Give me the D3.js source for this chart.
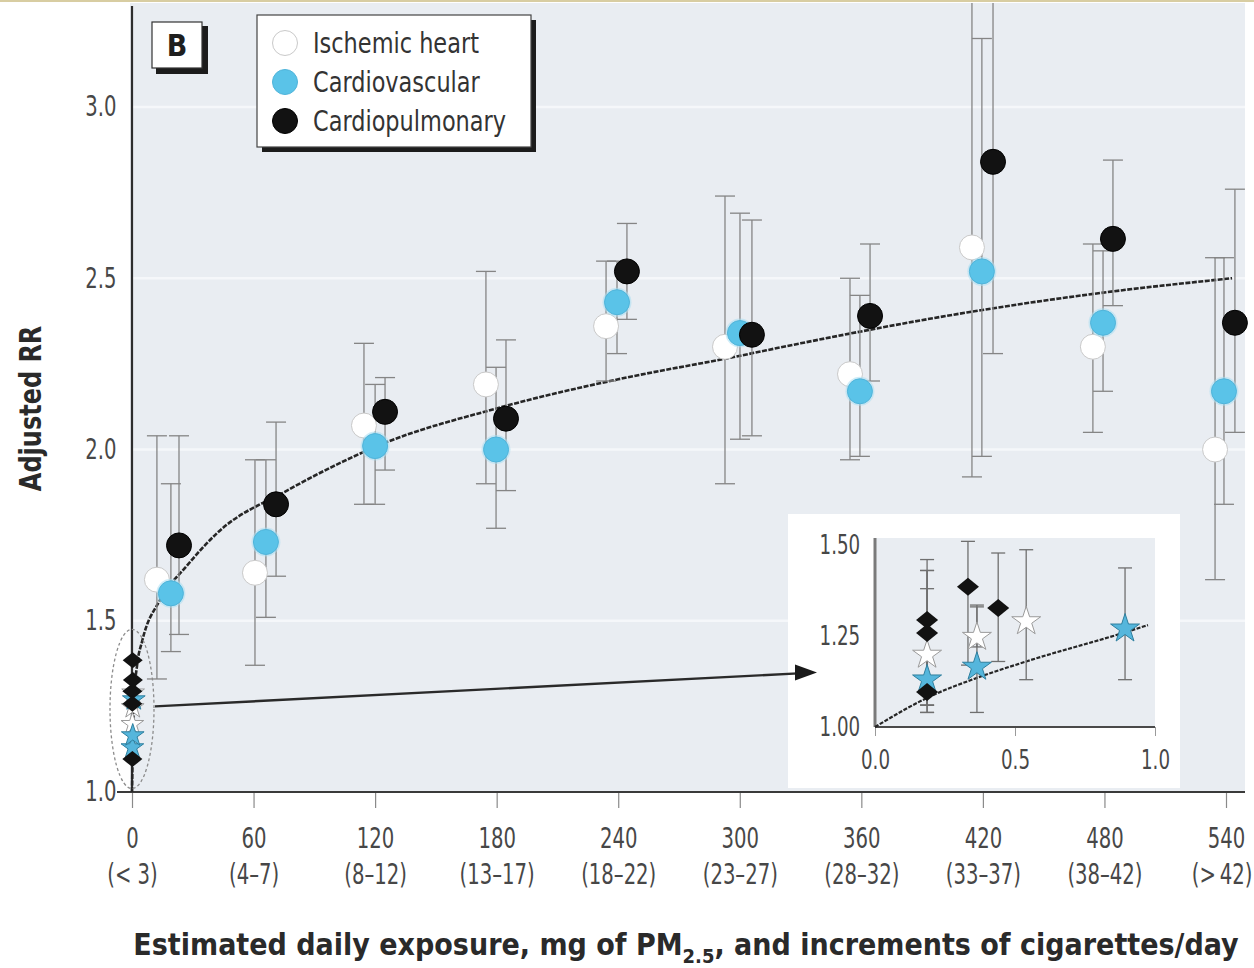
<!DOCTYPE html>
<html>
<head>
<meta charset="utf-8">
<script src="https://cdn.jsdelivr.net/npm/d3@7"></script>
<style>
  html, body { margin: 0; padding: 0; background: #fff; }
  svg { display: block; }
  text { font-family: 'Liberation Sans Narrow', 'DejaVu Sans Condensed', 'DejaVu Sans', sans-serif; }
</style>
</head>
<body>
<svg id="chart" width="1254" height="968"></svg>
<script>
// ---- Data -------------------------------------------------------------
// x ticks: mg of PM2.5 per day, with the matching cigarettes/day band
const xTickValues = [0, 60, 120, 180, 240, 300, 360, 420, 480, 540];
const cigaretteBands = ["(< 3)", "(4\u20137)", "(8\u201312)", "(13\u201317)", "(18\u201322)",
                        "(23\u201327)", "(28\u201332)", "(33\u201337)", "(38\u201342)", "(>\u200942)"];
const yTickValues = [1.0, 1.5, 2.0, 2.5, 3.0];

// Active smoking groups (mean exposure, adjusted RR, 95% CI)
const ischemicDose = [12.3, 60.7, 114.5, 174.7, 234.0, 292.7, 354.4, 414.6, 474.3, 534.6];
const ischemicRR   = [1.62, 1.64, 2.07, 2.19, 2.36, 2.30, 2.22, 2.59, 2.30, 2.00];
const ischemicLo   = [1.33, 1.37, 1.84, 1.90, 2.20, 1.90, 1.97, 1.92, 2.05, 1.62];
const ischemicHi   = [2.04, 1.97, 2.31, 2.52, 2.55, 2.74, 2.50, 3.45, 2.60, 2.56];

const cardiovascDose = [19.2, 66.1, 120.0, 179.7, 239.4, 300.1, 359.3, 419.5, 479.3, 539.0];
const cardiovascRR   = [1.58, 1.73, 2.01, 2.00, 2.43, 2.34, 2.17, 2.52, 2.37, 2.17];
const cardiovascLo   = [1.41, 1.51, 1.84, 1.77, 2.28, 2.03, 1.98, 1.98, 2.17, 1.84];
const cardiovascHi   = [1.90, 1.97, 2.19, 2.24, 2.55, 2.69, 2.45, 3.20, 2.58, 2.56];

const cardiopulmDose = [23.2, 71.1, 124.9, 184.6, 244.3, 306.0, 364.3, 425.0, 484.2, 544.4];
const cardiopulmRR   = [1.72, 1.84, 2.11, 2.09, 2.52, 2.335, 2.39, 2.84, 2.615, 2.37];
const cardiopulmLo   = [1.46, 1.63, 1.94, 1.88, 2.38, 2.04, 2.20, 2.28, 2.42, 2.05];
const cardiopulmHi   = [2.04, 2.08, 2.21, 2.32, 2.66, 2.67, 2.60, 3.45, 2.845, 2.76];

// Low-exposure (secondhand smoke / occupational) estimates, shown in the inset
const lowIschemicDose = [0.186, 0.364, 0.54];
const lowIschemicRR   = [1.198, 1.247, 1.29];
const lowIschemicLo   = [1.06, 1.22, 1.13];
const lowIschemicHi   = [1.43, 1.335, 1.487];

const lowCardiovascDose = [0.186, 0.364, 0.893];
const lowCardiovascRR   = [1.13, 1.165, 1.27];
const lowCardiovascLo   = [1.04, 1.04, 1.13];
const lowCardiovascHi   = [1.38, 1.33, 1.437];

const lowCardiopulmDose = [0.186, 0.186, 0.186, 0.332, 0.44];
const lowCardiopulmRR   = [1.294, 1.258, 1.096, 1.385, 1.327];
const lowCardiopulmLo   = [1.06, 1.06, 1.04, 1.17, 1.18];
const lowCardiopulmHi   = [1.46, 1.43, 1.30, 1.55, 1.478];

// Fitted exposure-response curve
const fitDose = [0, 0.3, 1, 2.5, 5, 13.8, 27, 42, 76.5, 99, 121, 180, 240, 297, 330, 412, 478, 543];
const fitRR   = [1.0, 1.10, 1.27, 1.37, 1.44, 1.56, 1.66, 1.756, 1.88, 1.95, 2.01, 2.12, 2.205, 2.27, 2.31, 2.40, 2.457, 2.50];
const insetFitDose = [0, 0.186, 0.364, 0.54, 0.893, 0.975];
const insetFitRR   = [1.0, 1.08, 1.135, 1.18, 1.26, 1.28];

const legendLabels = ["Ischemic heart", "Cardiovascular", "Cardiopulmonary"];

// ---- Helpers ----------------------------------------------------------
const zip = (d, r, lo, hi) => d.map((v, i) => ({ dose: v, rr: r[i], lo: lo[i], hi: hi[i] }));
const ischemic = zip(ischemicDose, ischemicRR, ischemicLo, ischemicHi);
const cardiovasc = zip(cardiovascDose, cardiovascRR, cardiovascLo, cardiovascHi);
const cardiopulm = zip(cardiopulmDose, cardiopulmRR, cardiopulmLo, cardiopulmHi);
const lowIschemic = zip(lowIschemicDose, lowIschemicRR, lowIschemicLo, lowIschemicHi);
const lowCardiovasc = zip(lowCardiovascDose, lowCardiovascRR, lowCardiovascLo, lowCardiovascHi);
const lowCardiopulm = zip(lowCardiopulmDose, lowCardiopulmRR, lowCardiopulmLo, lowCardiopulmHi);

const COLORS = { white: "#ffffff", blue: "#5ac3e8", black: "#121212" };
const NARROW = 0.78;          // horizontal squeeze for the condensed label face
const LABEL_GREY = "#474747";

const svg = d3.select("#chart");
const W = 1254, H = 968;

svg.append("rect").attr("width", W).attr("height", H).attr("fill", "#fff");
svg.append("rect").attr("x", 0).attr("y", 0).attr("width", W).attr("height", 2).attr("fill", "#d8cda2");

// ---- Scales -----------------------------------------------------------
const x = d3.scaleLinear().domain([0, 540]).range([132, 1226]);
const y = d3.scaleLinear().domain([1, 3]).range([792, 107]);
const plotLeft = 130, plotRight = 1245, plotTop = 3, plotBottom = y(1);

// plot background
svg.append("rect")
  .attr("x", plotLeft).attr("y", plotTop)
  .attr("width", plotRight - plotLeft).attr("height", plotBottom - plotTop)
  .attr("fill", "#e9edf2");

const defs = svg.append("defs");
defs.append("clipPath").attr("id", "plotClip")
  .append("rect")
  .attr("x", plotLeft - 30).attr("y", plotTop)
  .attr("width", plotRight - plotLeft + 40).attr("height", plotBottom - plotTop + 20);

// faint horizontal gridlines
svg.append("g").selectAll("line").data(yTickValues.slice(1)).join("line")
  .attr("x1", plotLeft + 2).attr("x2", plotRight)
  .attr("y1", d => y(d)).attr("y2", d => y(d))
  .attr("stroke", "#f5f7fa").attr("stroke-width", 2.5);

// ---- Axes -------------------------------------------------------------
const xAxis = svg.append("g")
  .attr("transform", `translate(0,${y(1)})`)
  .call(d3.axisBottom(x).tickValues(xTickValues).tickSize(16).tickFormat(() => ""));
xAxis.select(".domain").remove();
xAxis.selectAll(".tick line").attr("stroke", "#8a8a8a").attr("stroke-width", 1.2);
xAxis.selectAll(".tick").each(function (d, i) {
  const last = i === xTickValues.length - 1;
  const t = d3.select(this).append("text")
    .attr("fill", LABEL_GREY).attr("text-anchor", "middle")
    .attr("transform", `scale(${NARROW},1)`)
    .style("font-size", "28px");
  t.append("tspan").attr("x", 0).attr("y", 56).text(d);
  // the last band label is kept inside the right edge of the page
  t.append("tspan")
    .attr("x", last ? (W - 2 - x(d)) / NARROW : 0)
    .attr("text-anchor", last ? "end" : "middle")
    .attr("y", 92).text(cigaretteBands[i]);
});
svg.append("line")
  .attr("x1", 117).attr("x2", plotRight)
  .attr("y1", y(1)).attr("y2", y(1))
  .attr("stroke", "#3a3a3a").attr("stroke-width", 2.2);

const yAxis = svg.append("g")
  .attr("transform", `translate(${x(0)},0)`)
  .call(d3.axisLeft(y).tickValues(yTickValues).tickSize(0).tickPadding(20).tickFormat(d3.format(".1f")));
yAxis.select(".domain").remove();
yAxis.selectAll(".tick text").attr("fill", LABEL_GREY).style("font-size", "28px")
  .attr("transform", `scale(${NARROW},1)`)
  .attr("font-family", "'Liberation Sans Narrow', 'DejaVu Sans Condensed', 'DejaVu Sans', sans-serif");
svg.append("line")
  .attr("x1", x(0)).attr("x2", x(0))
  .attr("y1", 6).attr("y2", y(1))
  .attr("stroke", "#2e2e2e").attr("stroke-width", 2.2);

// axis titles
svg.append("text")
  .attr("transform", `translate(41,${y(2.12)}) rotate(-90) scale(0.86,1)`)
  .attr("text-anchor", "middle")
  .attr("fill", "#2a2a2a")
  .style("font-size", "31px").style("font-weight", "bold")
  .text("Adjusted RR");

const xt = svg.append("text")
  .attr("x", 686).attr("y", 955)
  .attr("text-anchor", "middle")
  .attr("fill", "#2a2a2a")
  .style("font-size", "30px").style("font-weight", "bold");
xt.append("tspan").text("Estimated daily exposure, mg of PM");
xt.append("tspan").attr("dy", 8).style("font-size", "20px").text("2.5");
xt.append("tspan").attr("dy", -8).text(", and increments of cigarettes/day");

// ---- Marks ------------------------------------------------------------
const plot = svg.append("g").attr("clip-path", "url(#plotClip)");

function errorBars(g, data, sx, sy, cap, color) {
  const gg = g.append("g").attr("stroke", color).attr("stroke-width", 1.3).attr("fill", "none");
  gg.selectAll("line.v").data(data).join("line").attr("class", "v")
    .attr("x1", d => sx(d.dose)).attr("x2", d => sx(d.dose))
    .attr("y1", d => sy(d.lo)).attr("y2", d => sy(d.hi));
  gg.selectAll("line.lo").data(data).join("line").attr("class", "lo")
    .attr("x1", d => sx(d.dose) - cap).attr("x2", d => sx(d.dose) + cap)
    .attr("y1", d => sy(d.lo)).attr("y2", d => sy(d.lo));
  gg.selectAll("line.hi").data(data).join("line").attr("class", "hi")
    .attr("x1", d => sx(d.dose) - cap).attr("x2", d => sx(d.dose) + cap)
    .attr("y1", d => sy(d.hi)).attr("y2", d => sy(d.hi));
}

// fitted curve
const fitLine = d3.line().curve(d3.curveMonotoneX);
plot.append("path")
  .attr("d", fitLine(fitDose.map((d, i) => [x(d), y(fitRR[i])])))
  .attr("fill", "none").attr("stroke", "#262626").attr("stroke-width", 2.6)
  .attr("stroke-dasharray", "5,1.5");

[ischemic, cardiovasc, cardiopulm].forEach(s => errorBars(plot, s, x, y, 10, "#858585"));

function circles(g, data, fill, stroke, glow) {
  if (glow) {
    g.append("g").selectAll("circle").data(data).join("circle")
      .attr("cx", d => x(d.dose)).attr("cy", d => y(d.rr)).attr("r", 14.5)
      .attr("fill", glow).attr("opacity", 0.55);
  }
  g.append("g").selectAll("circle").data(data).join("circle")
    .attr("cx", d => x(d.dose)).attr("cy", d => y(d.rr)).attr("r", 12.5)
    .attr("fill", fill).attr("stroke", stroke).attr("stroke-width", 1);
}
circles(plot, ischemic, COLORS.white, "#c9c9c9");
circles(plot, cardiovasc, COLORS.blue, "#4fb4da", "#a9def2");
circles(plot, cardiopulm, COLORS.black, "#000");

// marker shapes for the low-exposure estimates
const diamondPath = (w, h) => `M0,${-h}L${w},0L0,${h}L${-w},0Z`;
const star = size => d3.symbol(d3.symbolStar, size)();

function lowMarks(g, sx, sy, dW, dH, starSize) {
  g.append("g").selectAll("path").data(lowIschemic).join("path")
    .attr("transform", d => `translate(${sx(d.dose)},${sy(d.rr)})`)
    .attr("d", star(starSize)).attr("fill", "#fff").attr("stroke", "#9a9a9a").attr("stroke-width", 1);
  g.append("g").selectAll("path").data(lowCardiovasc).join("path")
    .attr("transform", d => `translate(${sx(d.dose)},${sy(d.rr)})`)
    .attr("d", star(starSize)).attr("fill", "#55b6dc").attr("stroke", "#2f7f9e").attr("stroke-width", 1);
  g.append("g").selectAll("path").data(lowCardiopulm).join("path")
    .attr("transform", d => `translate(${sx(d.dose)},${sy(d.rr)})`)
    .attr("d", diamondPath(dW, dH)).attr("fill", COLORS.black);
}

// low-exposure cluster at the origin of the main plot, circled
plot.append("ellipse")
  .attr("cx", x(0)).attr("cy", (y(1.01) + y(1.475)) / 2)
  .attr("rx", 22).attr("ry", (y(1.01) - y(1.475)) / 2)
  .attr("fill", "none").attr("stroke", "#8c8c8c").attr("stroke-width", 1.3)
  .attr("stroke-dasharray", "3,2.5");
lowMarks(plot, x, y, 10, 8, 160);

// ---- Inset (0-1 mg/day) ------------------------------------------------
const ix = d3.scaleLinear().domain([0, 1]).range([875, 1155]);
const iy = d3.scaleLinear().domain([1, 1.5]).range([727, 545]);

const inset = svg.append("g");
inset.append("rect")
  .attr("x", 788).attr("y", 514).attr("width", 392).attr("height", 274)
  .attr("fill", "#fff");
inset.append("rect")
  .attr("x", ix(0)).attr("y", 538).attr("width", ix(1) - ix(0)).attr("height", iy(1) - 538)
  .attr("fill", "#e9edf2");

const ixAxis = inset.append("g")
  .attr("transform", `translate(0,${iy(1)})`)
  .call(d3.axisBottom(ix).tickValues([0, 0.5, 1]).tickSize(9).tickPadding(15).tickFormat(d3.format(".1f")));
ixAxis.select(".domain").remove();
ixAxis.selectAll(".tick line").attr("stroke", "#9a9a9a");
ixAxis.selectAll(".tick text").attr("fill", LABEL_GREY).style("font-size", "26px")
  .attr("transform", `scale(${NARROW},1)`)
  .attr("font-family", "'Liberation Sans Narrow', 'DejaVu Sans Condensed', 'DejaVu Sans', sans-serif");
inset.append("line")
  .attr("x1", ix(0)).attr("x2", ix(1)).attr("y1", iy(1)).attr("y2", iy(1))
  .attr("stroke", "#4a4a4a").attr("stroke-width", 2);

const iyAxis = inset.append("g")
  .attr("transform", `translate(${ix(0)},0)`)
  .call(d3.axisLeft(iy).tickValues([1, 1.25, 1.5]).tickSize(0).tickPadding(19).tickFormat(d3.format(".2f")));
iyAxis.select(".domain").remove();
iyAxis.selectAll(".tick text").attr("fill", LABEL_GREY).style("font-size", "26px")
  .attr("transform", `scale(${NARROW},1)`)
  .attr("font-family", "'Liberation Sans Narrow', 'DejaVu Sans Condensed', 'DejaVu Sans', sans-serif");
inset.append("line")
  .attr("x1", ix(0)).attr("x2", ix(0)).attr("y1", 538).attr("y2", iy(1))
  .attr("stroke", "#7a7a7a").attr("stroke-width", 3);

inset.append("path")
  .attr("d", fitLine(insetFitDose.map((d, i) => [ix(d), iy(insetFitRR[i])])))
  .attr("fill", "none").attr("stroke", "#262626").attr("stroke-width", 2.2)
  .attr("stroke-dasharray", "4,1.5");

[lowIschemic, lowCardiovasc, lowCardiopulm].forEach(s =>
  errorBars(inset, s.map(d => ({ ...d, hi: Math.min(d.hi, 1.51) })), ix, iy, 7, "#6f6f6f"));
lowMarks(inset, ix, iy, 11, 9, 260);

// arrow from the circled cluster to the inset
const arrowEnd = [ix(0) - 58, iy(1.15)];
svg.append("line")
  .attr("x1", x(0) + 23).attr("y1", y(1.25))
  .attr("x2", arrowEnd[0] - 14).attr("y2", arrowEnd[1] + 0.7)
  .attr("stroke", "#2a2a2a").attr("stroke-width", 2.4);
svg.append("path")
  .attr("d", `M${arrowEnd[0] - 22},${arrowEnd[1] - 8}L${arrowEnd[0]},${arrowEnd[1]}L${arrowEnd[0] - 22},${arrowEnd[1] + 8}Z`)
  .attr("fill", "#1a1a1a");

// ---- Panel label and legend -------------------------------------------
const panel = svg.append("g").attr("transform", "translate(152,22)");
panel.append("rect").attr("x", 4).attr("y", 4).attr("width", 52).attr("height", 48).attr("fill", "#1c1c1c");
panel.append("rect").attr("width", 50).attr("height", 46).attr("fill", "#fff").attr("stroke", "#333").attr("stroke-width", 1.2);
panel.append("text").attr("x", 25).attr("y", 34).attr("text-anchor", "middle")
  .attr("fill", "#1e1e1e").style("font-size", "30px").style("font-weight", "bold").text("B");

const legend = svg.append("g").attr("transform", "translate(257,15)");
legend.append("rect").attr("x", 5).attr("y", 5).attr("width", 274).attr("height", 132).attr("fill", "#1c1c1c");
legend.append("rect").attr("width", 274).attr("height", 132).attr("fill", "#fff")
  .attr("stroke", "#444").attr("stroke-width", 1.2);
const legendFill = [COLORS.white, COLORS.blue, COLORS.black];
const legendStroke = ["#c9c9c9", "#4fb4da", "#000"];
const li = legend.selectAll("g.item").data(legendLabels).join("g").attr("class", "item")
  .attr("transform", (d, i) => `translate(0,${28 + i * 39})`);
li.append("circle").attr("cx", 28).attr("cy", 0).attr("r", 12.5)
  .attr("fill", (d, i) => legendFill[i]).attr("stroke", (d, i) => legendStroke[i]);
li.append("text").attr("x", 56 / 0.86).attr("y", 10)
  .attr("transform", "scale(0.86,1)")
  .attr("fill", "#333").style("font-size", "29px").text(d => d);
</script>
</body>
</html>
